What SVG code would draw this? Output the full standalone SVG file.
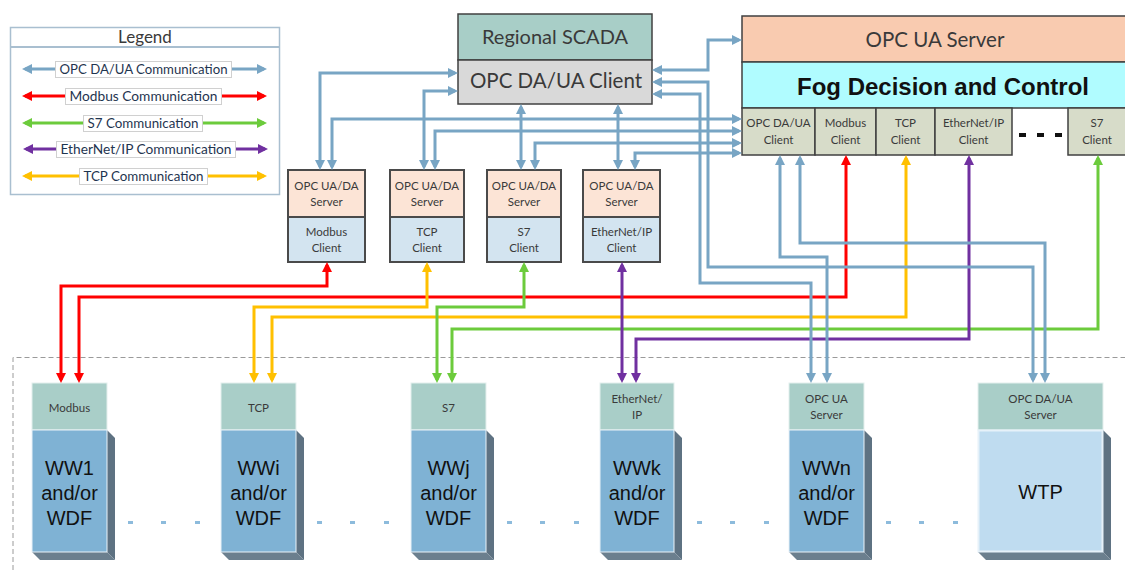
<svg xmlns="http://www.w3.org/2000/svg" width="1125" height="570" viewBox="0 0 1125 570">
<defs>
<style>
.t{font-family:Lato,"Liberation Sans",sans-serif;fill:#3a3a3a;text-anchor:middle}
.a{font-family:"Liberation Sans",Arial,sans-serif;fill:#111;text-anchor:middle}
.bx{stroke:#404040;stroke-width:1.5}
.cv{stroke:#4a4a4a;stroke-width:2}
.c{fill:none;stroke-width:3;stroke-linejoin:miter}
.opc{stroke:#78a5c4;marker-start:url(#mb);marker-end:url(#mb)}
.mod{stroke:#ff0000;marker-start:url(#mr);marker-end:url(#mr)}
.tcp{stroke:#ffc000;marker-start:url(#mo);marker-end:url(#mo)}
.s7{stroke:#6ccb3c;marker-start:url(#mg);marker-end:url(#mg)}
.eip{stroke:#7030a0;marker-start:url(#mp);marker-end:url(#mp)}
.lbl{fill:#fff;stroke:#d0d0d0;stroke-width:1}
.lt{font-family:Lato,"Liberation Sans",sans-serif;fill:#1f3550;text-anchor:middle;font-size:13px}
.hd{fill:#a9cec8;stroke:#e4efed;stroke-width:1}
.bd{fill:#7fb2d4;stroke:#eaf2f8;stroke-width:1}
.sh{fill:#5e7282}
.sh2{fill:#6b7f8e}
.dot{fill:#8dbbdc}
</style>
<marker id="mb" viewBox="0 0 10 10" refX="7" refY="5" markerWidth="10" markerHeight="10" markerUnits="userSpaceOnUse" orient="auto-start-reverse"><path d="M0,0 L10,5 L0,10 z" fill="#78a5c4"/></marker>
<marker id="mr" viewBox="0 0 10 10" refX="7" refY="5" markerWidth="10" markerHeight="10" markerUnits="userSpaceOnUse" orient="auto-start-reverse"><path d="M0,0 L10,5 L0,10 z" fill="#ff0000"/></marker>
<marker id="mo" viewBox="0 0 10 10" refX="7" refY="5" markerWidth="10" markerHeight="10" markerUnits="userSpaceOnUse" orient="auto-start-reverse"><path d="M0,0 L10,5 L0,10 z" fill="#ffc000"/></marker>
<marker id="mg" viewBox="0 0 10 10" refX="7" refY="5" markerWidth="10" markerHeight="10" markerUnits="userSpaceOnUse" orient="auto-start-reverse"><path d="M0,0 L10,5 L0,10 z" fill="#6ccb3c"/></marker>
<marker id="mp" viewBox="0 0 10 10" refX="7" refY="5" markerWidth="10" markerHeight="10" markerUnits="userSpaceOnUse" orient="auto-start-reverse"><path d="M0,0 L10,5 L0,10 z" fill="#7030a0"/></marker>
</defs>
<rect width="1125" height="570" fill="#fff"/>

<!-- field area boundary -->
<path d="M13,570 V357.5 H1125" fill="none" stroke="#9a9a9a" stroke-width="1" stroke-dasharray="5,3"/>

<!-- legend -->
<g id="legend">
<rect x="10.5" y="27.5" width="269" height="167" fill="#fff" stroke="#a9bfd0" stroke-width="1.5"/>
<line x1="10.5" y1="47" x2="279.5" y2="47" stroke="#a9bfd0" stroke-width="2"/>
<text class="t" x="145" y="43" font-size="17">Legend</text>
<path class="c opc" d="M25,69 H264"/>
<rect class="lbl" x="55.5" y="61.5" width="176" height="16"/>
<text class="lt" x="143.5" y="74" textLength="168" lengthAdjust="spacingAndGlyphs">OPC DA/UA Communication</text>
<path class="c mod" d="M25,96 H264"/>
<rect class="lbl" x="65.5" y="88.5" width="156" height="16"/>
<text class="lt" x="143.5" y="101" textLength="148" lengthAdjust="spacingAndGlyphs">Modbus Communication</text>
<path class="c s7" d="M25,123 H264"/>
<rect class="lbl" x="83.5" y="115.5" width="119" height="16"/>
<text class="lt" x="143" y="128" textLength="111" lengthAdjust="spacingAndGlyphs">S7 Communication</text>
<path class="c eip" d="M26,149 H265"/>
<rect class="lbl" x="56.5" y="141.5" width="179" height="16"/>
<text class="lt" x="146" y="154" textLength="171" lengthAdjust="spacingAndGlyphs">EtherNet/IP Communication</text>
<path class="c tcp" d="M25,176 H264"/>
<rect class="lbl" x="79.5" y="168.5" width="128" height="16"/>
<text class="lt" x="143.5" y="181" textLength="120" lengthAdjust="spacingAndGlyphs">TCP Communication</text>
</g>

<!-- regional SCADA -->
<g id="scada">
<rect class="bx" x="458" y="14" width="194" height="46" fill="#a8cec7"/>
<rect class="bx" x="458" y="60" width="194" height="44" fill="#d9d9d9"/>
<text class="t" x="555" y="44" font-size="20">Regional SCADA</text>
<text class="t" x="556" y="88" font-size="20.5">OPC DA/UA Client</text>
</g>

<!-- fog node -->
<g id="fog">
<rect class="bx" x="742" y="16" width="390" height="46" fill="#f9cbb0"/>
<rect class="bx" x="742" y="62" width="390" height="46" fill="#b0fcff"/>
<text class="t" x="935" y="47" font-size="20.5">OPC UA Server</text>
<text class="a" x="943" y="95" font-size="24" font-weight="bold" fill="#000">Fog Decision and Control</text>
<rect class="bx" x="742" y="108" width="73" height="47" fill="#d7dcc9"/>
<rect class="bx" x="815" y="108" width="61" height="47" fill="#d7dcc9"/>
<rect class="bx" x="876" y="108" width="59" height="47" fill="#d7dcc9"/>
<rect class="bx" x="935" y="108" width="77" height="47" fill="#d7dcc9"/>
<rect class="bx" x="1068" y="108" width="64" height="47" fill="#d7dcc9"/>
<g class="t" font-size="11.5">
<text x="778.5" y="127">OPC DA/UA</text><text x="778.5" y="144">Client</text>
<text x="845.5" y="127">Modbus</text><text x="845.5" y="144">Client</text>
<text x="905.5" y="127">TCP</text><text x="905.5" y="144">Client</text>
<text x="973.5" y="127">EtherNet/IP</text><text x="973.5" y="144">Client</text>
<text x="1097" y="127">S7</text><text x="1097" y="144">Client</text>
</g>
<rect x="1019" y="133" width="7" height="4" fill="#111"/>
<rect x="1037" y="133" width="7" height="4" fill="#111"/>
<rect x="1055" y="133" width="7" height="4" fill="#111"/>
</g>

<!-- protocol gateways -->
<g id="gw-modbus">
<rect class="cv" x="288" y="170" width="77" height="47" fill="#fce4d6"/>
<rect class="cv" x="288" y="217" width="77" height="45" fill="#d3e4f0"/>
<g class="t" font-size="11.5"><text x="326.5" y="190">OPC UA/DA</text><text x="326.5" y="206">Server</text><text x="326.5" y="236">Modbus</text><text x="326.5" y="252">Client</text></g>
</g>
<g id="gw-tcp">
<rect class="cv" x="390" y="170" width="74" height="47" fill="#fce4d6"/>
<rect class="cv" x="390" y="217" width="74" height="45" fill="#d3e4f0"/>
<g class="t" font-size="11.5"><text x="427" y="190">OPC UA/DA</text><text x="427" y="206">Server</text><text x="427" y="236">TCP</text><text x="427" y="252">Client</text></g>
</g>
<g id="gw-s7">
<rect class="cv" x="487" y="170" width="74" height="47" fill="#fce4d6"/>
<rect class="cv" x="487" y="217" width="74" height="45" fill="#d3e4f0"/>
<g class="t" font-size="11.5"><text x="524" y="190">OPC UA/DA</text><text x="524" y="206">Server</text><text x="524" y="236">S7</text><text x="524" y="252">Client</text></g>
</g>
<g id="gw-eip">
<rect class="cv" x="583" y="170" width="77" height="47" fill="#fce4d6"/>
<rect class="cv" x="583" y="217" width="77" height="45" fill="#d3e4f0"/>
<g class="t" font-size="11.5"><text x="621.5" y="190">OPC UA/DA</text><text x="621.5" y="206">Server</text><text x="621.5" y="236">EtherNet/IP</text><text x="621.5" y="252">Client</text></g>
</g>

<!-- field sites -->
<g id="site-ww1">
<polygon class="sh" points="107,430 115,438 115,560 107,552"/>
<polygon class="sh2" points="32,552 107,552 115,560 40,560"/>
<rect class="hd" x="32" y="383" width="75" height="47"/>
<rect class="bd" x="32" y="430" width="75" height="122"/>
<text class="t" x="69.5" y="412" font-size="11.5">Modbus</text>
<g class="a" font-size="20"><text x="69.5" y="475">WW1</text><text x="69.5" y="500">and/or</text><text x="69.5" y="525">WDF</text></g>
</g>
<g id="site-wwi">
<polygon class="sh" points="296,430 304,438 304,560 296,552"/>
<polygon class="sh2" points="221,552 296,552 304,560 229,560"/>
<rect class="hd" x="221" y="383" width="75" height="47"/>
<rect class="bd" x="221" y="430" width="75" height="122"/>
<text class="t" x="258.5" y="412" font-size="11.5">TCP</text>
<g class="a" font-size="20"><text x="258.5" y="475">WWi</text><text x="258.5" y="500">and/or</text><text x="258.5" y="525">WDF</text></g>
</g>
<g id="site-wwj">
<polygon class="sh" points="486,430 494,438 494,560 486,552"/>
<polygon class="sh2" points="411,552 486,552 494,560 419,560"/>
<rect class="hd" x="411" y="383" width="75" height="47"/>
<rect class="bd" x="411" y="430" width="75" height="122"/>
<text class="t" x="448.5" y="412" font-size="11.5">S7</text>
<g class="a" font-size="20"><text x="448.5" y="475">WWj</text><text x="448.5" y="500">and/or</text><text x="448.5" y="525">WDF</text></g>
</g>
<g id="site-wwk">
<polygon class="sh" points="674,430 682,438 682,560 674,552"/>
<polygon class="sh2" points="600,552 674,552 682,560 608,560"/>
<rect class="hd" x="600" y="383" width="74" height="47"/>
<rect class="bd" x="600" y="430" width="74" height="122"/>
<text class="t" x="637" y="403" font-size="11.5">EtherNet/</text>
<text class="t" x="637" y="419" font-size="11.5">IP</text>
<g class="a" font-size="20"><text x="637" y="475">WWk</text><text x="637" y="500">and/or</text><text x="637" y="525">WDF</text></g>
</g>
<g id="site-wwn">
<polygon class="sh" points="864,430 872,438 872,560 864,552"/>
<polygon class="sh2" points="789,552 864,552 872,560 797,560"/>
<rect class="hd" x="789" y="383" width="75" height="47"/>
<rect class="bd" x="789" y="430" width="75" height="122"/>
<text class="t" x="826.5" y="403" font-size="11.5">OPC UA</text>
<text class="t" x="826.5" y="419" font-size="11.5">Server</text>
<g class="a" font-size="20"><text x="826.5" y="475">WWn</text><text x="826.5" y="500">and/or</text><text x="826.5" y="525">WDF</text></g>
</g>
<g id="site-wtp">
<polygon class="sh" points="1103,430 1111,438 1111,560 1103,552"/>
<polygon class="sh2" points="978,552 1103,552 1111,560 986,560"/>
<rect class="hd" x="978" y="383" width="125" height="47"/>
<rect x="978.5" y="430.5" width="124" height="121" fill="#bfdcf0" stroke="#e6f1f9" stroke-width="2"/>
<text class="t" x="1040.5" y="403" font-size="11.5">OPC DA/UA</text>
<text class="t" x="1040.5" y="419" font-size="11.5">Server</text>
<text class="a" x="1040.5" y="499" font-size="20">WTP</text>
</g>

<!-- ellipsis between sites -->
<g id="gaps">
<rect class="dot" x="128" y="521" width="5" height="3"/><rect class="dot" x="161" y="521" width="5" height="3"/><rect class="dot" x="195" y="521" width="5" height="3"/>
<rect class="dot" x="317" y="521" width="5" height="3"/><rect class="dot" x="350" y="521" width="5" height="3"/><rect class="dot" x="384" y="521" width="5" height="3"/>
<rect class="dot" x="507" y="521" width="5" height="3"/><rect class="dot" x="540" y="521" width="5" height="3"/><rect class="dot" x="574" y="521" width="5" height="3"/>
<rect class="dot" x="697" y="521" width="5" height="3"/><rect class="dot" x="730" y="521" width="5" height="3"/><rect class="dot" x="764" y="521" width="5" height="3"/>
<rect class="dot" x="886" y="521" width="5" height="3"/><rect class="dot" x="919" y="521" width="5" height="3"/><rect class="dot" x="953" y="521" width="5" height="3"/>
</g>

<!-- links -->
<g id="connectors">
<path class="c mod" d="M327,265 V286 H61 V380"/>
<path class="c mod" d="M846,158 V297 H79 V380"/>
<path class="c tcp" d="M427,265 V307 H254 V380"/>
<path class="c tcp" d="M906,158 V317 H272 V380"/>
<path class="c s7" d="M524,265 V307 H437 V380"/>
<path class="c s7" d="M1098,158 V329 H452 V380"/>
<path class="c eip" d="M622,265 V380"/>
<path class="c eip" d="M969,158 V339 H636 V380"/>
<path class="c opc" d="M455,73 H320 V167"/>
<path class="c opc" d="M455,91 H424 V167"/>
<path class="c opc" d="M739,119 H332 V167"/>
<path class="c opc" d="M739,131 H435 V167"/>
<path class="c opc" d="M739,143 H535 V167"/>
<path class="c opc" d="M739,153 H635 V167"/>
<path class="c opc" d="M521,107 V167"/>
<path class="c opc" d="M618,107 V167"/>
<path class="c opc" d="M655,70 H708 V40 H739"/>
<path class="c opc" d="M655,82 H708 V267 H1033 V380"/>
<path class="c opc" d="M655,94 H700 V283 H811 V380"/>
<path class="c opc" d="M780,158 V257 H827 V380"/>
<path class="c opc" d="M800,158 V243 H1045 V380"/>
</g>
</svg>
